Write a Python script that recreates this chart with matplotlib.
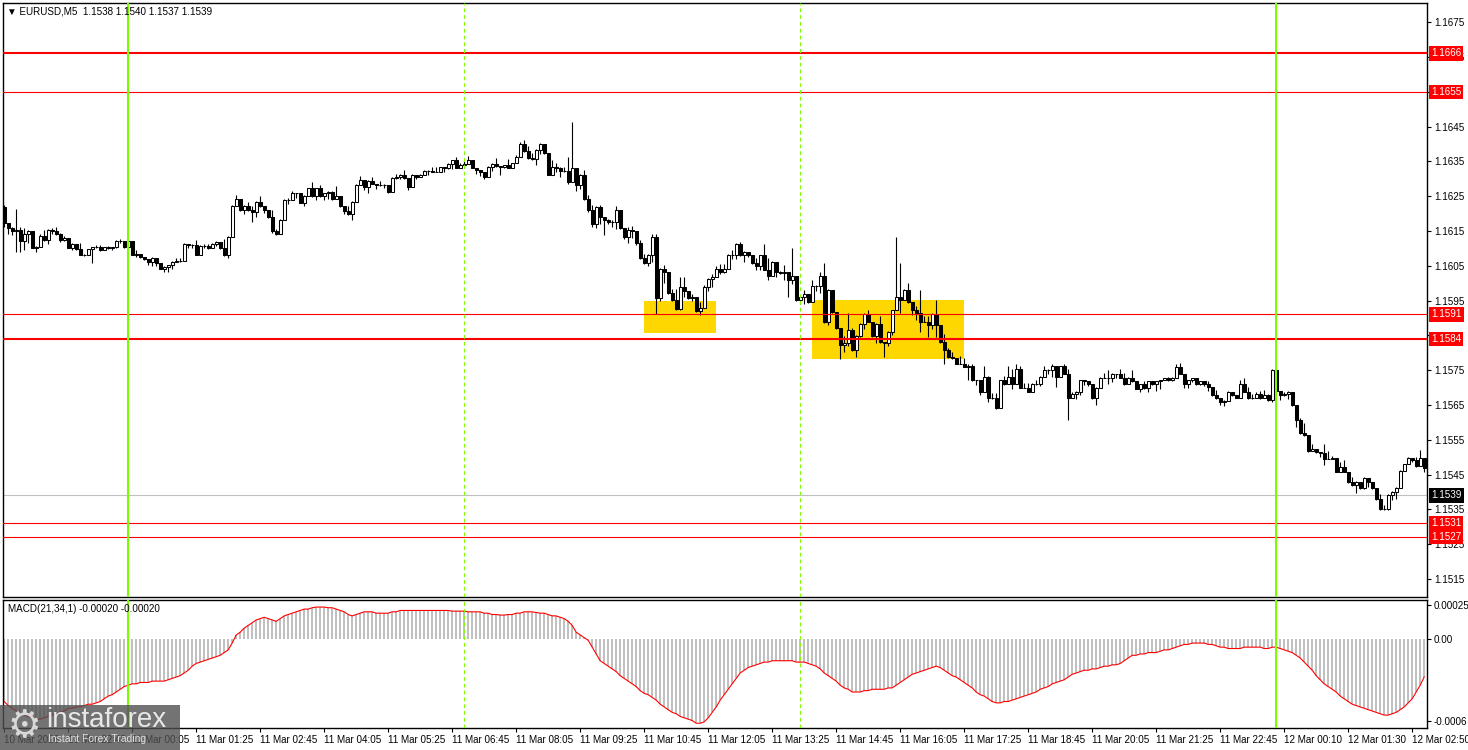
import numpy as np
import matplotlib
matplotlib.use('Agg')
import matplotlib.pyplot as plt
from matplotlib.patches import Rectangle
import matplotlib.transforms as mtransforms

plt.rcParams['font.family'] = ['Liberation Sans', 'DejaVu Sans']

# ---------------- data ----------------
symbol_title = "\u25BC EURUSD,M5  1.1538 1.1540 1.1537 1.1539"
macd_title = "MACD(21,34,1) -0.00020 -0.00020"
base_price = 1.1500          # prices below are pips above this base
first_open_pips = 122.0

close_pips = [
    117.2, 115.7, 115.0, 115.4, 112.2, 114.1, 115.0, 110.0, 110.5, 113.5,
    112.3, 115.2, 115.0, 114.1, 112.4, 113.0, 110.0, 111.2, 109.8, 108.2,
    108.1, 109.7, 110.3, 110.3, 109.5, 110.3, 110.2, 110.3, 112.2, 112.0,
    110.3, 112.2, 108.1, 108.5, 107.4, 106.8, 106.0, 107.1, 105.8, 104.2,
    104.5, 105.2, 106.1, 106.4, 106.3, 111.2, 111.0, 111.0, 108.1, 110.7,
    110.6, 110.0, 111.3, 111.9, 110.0, 108.1, 113.3, 122.1, 124.1, 121.0,
    122.1, 121.0, 120.5, 123.4, 122.1, 121.0, 119.1, 115.0, 114.0, 118.1,
    123.9, 124.0, 126.0, 125.8, 123.1, 125.0, 127.2, 125.0, 127.2, 125.0,
    125.8, 126.3, 124.3, 125.0, 122.1, 120.8, 119.8, 123.4, 128.2, 129.5,
    127.7, 129.3, 128.6, 128.2, 128.2, 128.2, 126.1, 130.1, 130.6, 131.2,
    130.1, 127.7, 131.2, 130.6, 131.2, 132.2, 132.2, 132.0, 132.0, 133.4,
    133.1, 134.1, 135.3, 133.1, 133.9, 134.1, 135.3, 133.1, 132.4, 132.0,
    130.6, 133.4, 134.1, 133.8, 133.4, 133.9, 133.1, 134.4, 136.3, 140.1,
    137.9, 136.0, 135.8, 138.2, 140.1, 137.3, 131.2, 133.4, 133.1, 132.2,
    132.2, 129.1, 133.1, 128.2, 131.2, 124.3, 121.0, 117.1, 121.9, 119.1,
    118.1, 117.5, 117.6, 121.0, 115.7, 113.3, 115.2, 115.0, 111.4, 107.1,
    105.7, 108.1, 113.3, 95.6, 104.0, 103.3, 97.1, 95.2, 92.7, 99.0,
    97.7, 95.8, 96.0, 92.0, 92.9, 99.0, 101.2, 101.8, 104.2, 103.1,
    104.2, 108.0, 108.0, 111.2, 108.0, 109.0, 108.0, 105.8, 104.9, 108.0,
    103.9, 102.0, 106.1, 103.3, 103.0, 103.3, 101.0, 102.0, 95.1, 96.1,
    97.0, 94.6, 99.1, 99.1, 102.0, 88.9, 98.0, 91.8, 87.0, 82.2,
    82.9, 86.5, 80.7, 84.8, 88.2, 91.1, 88.9, 84.8, 88.2, 83.1,
    82.9, 86.0, 92.2, 96.1, 95.1, 98.0, 94.6, 92.2, 91.5, 88.9,
    88.9, 87.9, 91.1, 87.9, 83.1, 80.7, 78.8, 78.4, 76.9, 76.9,
    76.0, 76.1, 72.1, 72.1, 68.8, 73.1, 66.9, 66.9, 64.0, 72.1,
    71.0, 73.1, 71.0, 75.2, 70.0, 70.0, 68.8, 71.0, 71.0, 73.1,
    75.0, 75.0, 76.1, 73.1, 76.1, 74.0, 66.9, 68.1, 68.8, 72.1,
    71.8, 70.9, 66.9, 69.9, 72.8, 72.8, 72.6, 74.0, 73.8, 72.8,
    70.9, 72.8, 71.8, 69.7, 70.9, 69.9, 71.8, 70.9, 71.8, 72.1,
    72.6, 72.1, 72.8, 76.0, 74.0, 70.9, 72.1, 72.6, 70.9, 71.8,
    70.9, 70.2, 67.8, 66.9, 65.9, 66.1, 68.8, 67.8, 67.1, 70.9,
    68.8, 66.9, 66.9, 68.0, 66.9, 67.8, 66.4, 75.0, 69.0, 67.8,
    68.0, 68.8, 64.9, 60.6, 56.8, 56.3, 51.8, 52.3, 51.5, 51.1,
    49.6, 49.6, 49.8, 45.8, 47.2, 45.8, 42.9, 42.0, 42.9, 41.0,
    44.1, 42.9, 41.0, 37.9, 35.1, 35.1, 39.1, 40.0, 41.2, 46.0,
    47.9, 49.8, 49.1, 47.5, 49.8, 46.9,
]

high_pips = [
    122.5, 116.3, 116.0, 121.2, 116.0, 115.7, 115.2, 114.5, 110.6, 114.0,
    115.2, 115.6, 115.8, 116.2, 114.3, 113.5, 113.0, 111.4, 111.2, 111.5,
    108.3, 109.9, 110.5, 111.0, 111.0, 110.5, 110.8, 110.5, 112.4, 112.6,
    112.0, 112.5, 112.0, 109.5, 108.2, 107.5, 106.8, 107.5, 106.5, 105.3,
    104.8, 105.3, 106.3, 107.3, 107.2, 111.4, 111.2, 111.3, 112.4, 111.0,
    111.2, 111.2, 111.6, 112.2, 111.9, 112.8, 113.5, 122.5, 125.3, 124.1,
    122.4, 123.4, 122.1, 123.6, 125.0, 121.8, 120.5, 121.0, 115.5, 118.4,
    124.2, 124.6, 126.4, 126.0, 124.4, 125.4, 127.4, 129.1, 127.4, 128.2,
    126.0, 126.5, 126.5, 127.8, 124.3, 121.5, 122.1, 123.6, 128.4, 130.8,
    128.5, 129.5, 130.4, 128.4, 129.4, 128.4, 127.6, 130.4, 131.5, 131.5,
    132.4, 129.4, 131.4, 131.2, 131.5, 132.4, 132.5, 133.4, 133.3, 133.5,
    133.3, 134.4, 135.5, 136.2, 134.5, 135.0, 136.4, 134.4, 133.0, 132.2,
    131.8, 133.6, 134.5, 136.0, 133.6, 134.0, 135.6, 134.6, 136.8, 140.5,
    141.0, 139.4, 137.5, 138.4, 140.4, 139.5, 136.4, 135.5, 134.6, 133.4,
    133.4, 136.2, 146.4, 133.1, 131.5, 132.4, 125.4, 122.5, 122.2, 122.5,
    119.1, 118.4, 118.0, 122.1, 120.5, 115.4, 116.2, 116.5, 114.5, 112.4,
    108.3, 108.4, 114.0, 114.0, 104.3, 105.2, 102.0, 98.2, 98.3, 101.8,
    101.8, 97.4, 96.9, 95.4, 94.5, 99.4, 101.4, 102.5, 105.0, 105.4,
    105.4, 108.3, 109.5, 111.6, 111.9, 109.2, 108.6, 107.3, 107.2, 108.2,
    111.2, 107.3, 106.3, 105.2, 103.5, 105.2, 103.3, 110.0, 101.2, 96.3,
    98.0, 96.3, 101.0, 99.4, 103.3, 105.8, 98.3, 97.2, 91.5, 86.8,
    84.8, 91.3, 87.0, 85.0, 88.4, 91.3, 92.4, 88.4, 88.4, 90.5,
    83.1, 86.2, 92.4, 113.3, 105.7, 98.2, 100.1, 94.5, 93.4, 98.0,
    90.5, 90.5, 91.3, 95.1, 87.2, 85.3, 81.4, 80.2, 78.6, 79.0,
    78.6, 76.9, 76.9, 72.3, 72.3, 76.1, 73.3, 68.5, 68.5, 72.3,
    73.3, 76.1, 75.4, 76.9, 76.3, 71.2, 71.2, 71.2, 72.3, 73.3,
    76.1, 75.2, 76.9, 75.2, 76.3, 76.9, 75.2, 68.8, 69.0, 72.3,
    72.3, 71.8, 70.2, 70.1, 73.0, 74.2, 75.0, 74.2, 74.0, 75.2,
    74.2, 73.0, 75.0, 71.1, 71.1, 72.0, 72.0, 72.0, 72.0, 72.3,
    72.8, 73.0, 73.0, 76.9, 77.1, 73.0, 72.3, 72.8, 72.3, 72.0,
    71.8, 71.8, 69.2, 69.2, 66.9, 66.3, 69.0, 68.0, 67.8, 72.1,
    72.8, 70.1, 68.2, 68.8, 69.0, 69.2, 68.2, 75.2, 74.2, 68.4,
    68.8, 69.0, 68.8, 64.4, 61.3, 59.7, 56.2, 53.9, 52.0, 51.5,
    53.9, 51.7, 50.2, 49.8, 48.5, 49.1, 45.2, 44.3, 43.1, 42.3,
    44.3, 43.5, 42.2, 40.2, 39.3, 36.2, 39.3, 40.2, 41.4, 46.2,
    48.1, 50.0, 49.8, 50.0, 52.0, 49.3,
]

low_pips = [
    116.0, 114.0, 113.8, 109.0, 109.0, 109.5, 111.4, 110.0, 109.0, 110.6,
    112.0, 111.2, 114.0, 113.8, 111.8, 112.2, 110.0, 109.5, 109.5, 108.0,
    107.8, 109.5, 105.8, 110.0, 109.3, 109.5, 109.8, 109.5, 110.0, 111.5,
    110.2, 109.5, 108.0, 107.5, 107.3, 106.7, 105.3, 104.9, 105.0, 104.0,
    103.3, 103.2, 104.2, 106.0, 106.0, 107.0, 110.2, 110.2, 108.0, 108.0,
    110.0, 109.8, 110.6, 110.8, 109.8, 107.9, 107.1, 113.5, 123.0, 120.8,
    119.8, 120.8, 117.6, 119.1, 121.8, 120.2, 118.8, 114.3, 113.8, 114.5,
    118.1, 122.6, 124.0, 124.5, 123.0, 122.2, 125.8, 124.8, 124.0, 124.8,
    124.0, 124.3, 124.0, 124.8, 122.0, 120.0, 119.5, 118.0, 124.0, 128.2,
    126.8, 126.0, 128.4, 127.0, 128.0, 127.2, 125.9, 127.0, 130.0, 130.0,
    130.0, 126.8, 128.9, 130.0, 130.5, 131.0, 131.2, 131.8, 131.8, 132.0,
    132.0, 132.8, 132.8, 133.0, 133.0, 133.0, 134.5, 133.0, 131.5, 130.8,
    130.0, 131.0, 132.3, 133.4, 131.2, 133.0, 133.0, 133.3, 135.0, 137.0,
    137.7, 135.8, 135.5, 134.0, 137.0, 137.0, 131.0, 132.0, 132.0, 130.4,
    132.0, 128.6, 130.0, 126.5, 127.0, 124.0, 120.5, 116.0, 115.7, 117.0,
    113.7, 117.0, 116.0, 115.5, 115.5, 112.8, 111.4, 113.0, 111.0, 107.0,
    105.5, 104.8, 106.0, 91.0, 95.0, 100.0, 96.8, 95.0, 92.3, 92.2,
    96.0, 95.5, 95.0, 91.6, 90.8, 93.4, 97.8, 99.0, 102.6, 102.5,
    103.0, 105.0, 107.0, 107.0, 107.8, 106.1, 107.5, 105.6, 103.9, 103.7,
    103.7, 101.0, 102.8, 101.8, 102.5, 101.0, 96.1, 99.7, 95.0, 94.0,
    94.0, 94.4, 96.0, 97.8, 97.3, 88.4, 88.0, 91.5, 86.8, 78.1,
    80.2, 82.0, 80.5, 78.8, 84.4, 86.8, 88.7, 84.6, 82.7, 82.9,
    78.8, 82.0, 85.1, 92.5, 91.3, 95.9, 94.4, 90.8, 89.5, 86.0,
    88.7, 84.6, 86.8, 84.6, 82.9, 76.9, 78.6, 78.2, 76.7, 76.7,
    75.8, 72.1, 71.9, 70.8, 67.8, 69.8, 65.9, 66.7, 63.8, 64.8,
    70.8, 71.9, 69.7, 71.9, 69.8, 69.8, 68.6, 69.8, 70.8, 70.5,
    73.8, 73.8, 72.9, 70.2, 73.8, 73.8, 60.8, 67.3, 66.7, 67.8,
    70.7, 70.5, 66.7, 64.9, 70.7, 72.6, 70.9, 71.6, 72.8, 72.6,
    70.7, 71.6, 71.6, 69.5, 68.8, 69.7, 68.8, 70.7, 69.0, 69.7,
    72.2, 71.9, 71.9, 73.8, 73.8, 69.9, 69.9, 71.5, 70.7, 70.8,
    70.5, 69.0, 67.6, 66.7, 64.9, 64.7, 66.7, 67.6, 66.9, 67.8,
    68.6, 66.7, 66.7, 66.9, 66.7, 67.6, 66.2, 65.9, 68.0, 66.4,
    67.5, 66.7, 64.7, 58.7, 56.6, 56.1, 51.6, 52.0, 51.1, 50.1,
    47.7, 49.4, 49.4, 45.6, 45.6, 45.6, 42.7, 41.8, 39.8, 40.8,
    40.8, 41.5, 40.8, 37.7, 34.9, 34.9, 34.9, 37.7, 37.9, 41.8,
    46.5, 48.9, 48.5, 47.3, 47.5, 45.8,
]

# MACD(21,34,1) values in units of 1e-5
macd_e5 = [
    -46, -49, -51, -53, -55, -56, -57, -58, -59, -59,
    -58, -57, -56, -55, -54, -53, -51, -51, -50, -50,
    -49, -48, -48, -47, -46, -44, -42, -41, -39, -37,
    -35, -34, -33, -33, -32, -32, -32, -31, -31, -31,
    -31, -30, -29, -28, -27, -25, -23, -20, -18, -17,
    -16, -15, -14, -13, -12, -10, -8, -3, 3, 5,
    8, 10, 12, 14, 15, 16, 15, 14, 13, 15,
    17, 18, 19, 20, 21, 22, 22, 23, 23.5, 23.5,
    23.5, 23, 23, 22, 21, 20, 18, 17, 18, 19,
    20, 20, 20, 19, 19, 19, 19, 20, 20, 21,
    21, 21, 21, 21, 21, 21, 21, 21, 21, 21,
    21, 21, 20.5, 20.5, 20.5, 20.5, 20, 20, 20, 20,
    19, 19, 18, 18, 17.6, 17.6, 18, 18, 19, 19,
    20, 20, 20, 19.5, 19, 19, 18, 17, 17, 16,
    15, 13, 10, 5, 3, 1, -1, -6, -11, -16,
    -18, -20, -22, -24, -27, -29, -31, -33, -35, -38,
    -40, -41, -43, -45, -48, -50, -52, -54, -55, -57,
    -58, -59, -60, -62, -62, -61, -58, -54, -50, -45,
    -41, -37, -33, -29, -25, -23, -21, -20, -19, -18,
    -17, -17, -16, -16, -16, -16, -16, -16, -17, -17,
    -17, -18, -19, -20, -22, -25, -27, -29, -31, -34,
    -36, -37, -39, -39, -39, -38, -38, -37, -37, -37,
    -37, -36, -36, -34, -32, -30, -28, -26, -25, -24,
    -23, -22, -21, -20, -21, -23, -25, -27, -28, -30,
    -32, -34, -36, -39, -41, -42, -44, -46, -47, -47,
    -46, -46, -45, -44, -43, -42, -41, -40, -39, -37,
    -36, -35, -33, -32, -31, -30, -28, -26, -25, -24,
    -23, -23, -22, -22, -21, -20, -20, -19, -19, -18,
    -16, -14, -12, -12, -11, -11, -10, -10, -10, -9,
    -8, -8, -7, -6, -5, -4, -4, -3, -3, -3,
    -3, -4, -4, -5, -6, -6, -7, -7, -7, -7,
    -6, -6, -6, -6, -6, -7, -7, -6, -6, -7,
    -8, -9, -10, -12, -14, -17, -20, -23, -27, -30,
    -33, -35, -37, -39, -42, -44, -46, -48, -49, -50,
    -51, -52, -53, -54, -55, -56, -56, -55, -54, -52,
    -50, -47, -44, -39, -34, -28,
]

levels_thick = [1.1666, 1.1584]
levels_thin = [1.1655, 1.1591, 1.1531, 1.1527]
red_labels = [1.1666, 1.1655, 1.1591, 1.1584, 1.1531, 1.1527]
bid_price = 1.1539
# zones: (first bar, last bar, low price, high price)
zones = [(160, 178, 1.15857, 1.15949), (202, 240, 1.15782, 1.15951)]
day_lines = [31, 318]
sep_lines = [115, 199]
price_ticks = [1.1515, 1.1525, 1.1535, 1.1545, 1.1555, 1.1565, 1.1575, 1.1585,
               1.1595, 1.1605, 1.1615, 1.1625, 1.1635, 1.1645, 1.1655, 1.1665, 1.1675]
# tick labels fully covered by a level label in the reference are left blank
hidden_price_ticks = [1.1585, 1.1655]
time_tick_bars = [0, 16, 32, 48, 64, 80, 96, 112, 128, 144, 160, 176, 192,
                  208, 224, 240, 256, 272, 288, 304, 320, 336, 352]
time_tick_text = ["10 Mar 2026", "10 Mar 22:45", "11 Mar 00:05", "11 Mar 01:25",
                  "11 Mar 02:45", "11 Mar 04:05", "11 Mar 05:25", "11 Mar 06:45",
                  "11 Mar 08:05", "11 Mar 09:25", "11 Mar 10:45", "11 Mar 12:05",
                  "11 Mar 13:25", "11 Mar 14:45", "11 Mar 16:05", "11 Mar 17:25",
                  "11 Mar 18:45", "11 Mar 20:05", "11 Mar 21:25", "11 Mar 22:45",
                  "12 Mar 00:10", "12 Mar 01:30", "12 Mar 02:50"]
macd_ticks = [0.00025, 0.0, -0.0006]
macd_tick_text = ["0.00025", "0.00", "-0.0006"]

assert len(close_pips) == len(high_pips) == len(low_pips) == len(macd_e5), \
    (len(close_pips), len(high_pips), len(low_pips), len(macd_e5))

# ---------------- derived ----------------
c = base_price + np.array(close_pips) / 1e4
h = base_price + np.array(high_pips) / 1e4
l = base_price + np.array(low_pips) / 1e4
o = np.r_[base_price + first_open_pips / 1e4, c[:-1]]
macd = np.array(macd_e5) * 1e-5
n = len(c)
x = np.arange(n)

W, H = 1468, 750
fig = plt.figure(figsize=(W / 100, H / 100), dpi=100)
fig.patch.set_facecolor('white')

def px_axes(x0, y0, x1, y1):
    return fig.add_axes([x0 / W, 1 - y1 / H, (x1 - x0) / W, (y1 - y0) / H])

ax = px_axes(3, 3, 1427, 597)
ax2 = px_axes(3, 600, 1427, 728)

xlim = (-0.3, 355.7)
for a in (ax, ax2):
    a.set_xlim(*xlim)
    for s in a.spines.values():
        s.set_color('black')
        s.set_linewidth(1.0)
    a.set_facecolor('white')

ax.set_ylim(1.15098, 1.16805)
ax2.set_ylim(-0.000655, 0.000287)

TXT = 7.1
GREEN = '#7CFC00'

# zones
for (b0, b1, lo, hi) in zones:
    ax.add_patch(Rectangle((b0, lo), b1 - b0, hi - lo, facecolor='#FFD700',
                           edgecolor='none', zorder=1))

# bid line
ax.axhline(bid_price, color='#C0C0C0', lw=0.8, zorder=1.5)

# candles
up = c >= o
body_lo = np.minimum(o, c)
body_h = np.abs(c - o)
ax.vlines(x, np.minimum(l, body_lo), np.maximum(h, body_lo + body_h),
          color='black', lw=0.8, zorder=2)
ax.bar(x, body_h, bottom=body_lo, width=0.72,
       color=np.where(up, 'white', 'black'), edgecolor='black', lw=0.75, zorder=3)

# horizontal levels
for lv in levels_thick:
    ax.axhline(lv, color='red', lw=1.5, zorder=4)
for lv in levels_thin:
    ax.axhline(lv, color='red', lw=0.8, zorder=4)

# vertical lines
for a in (ax, ax2):
    for b in day_lines:
        a.axvline(b, color=GREEN, lw=1.5, zorder=5)
    for b in sep_lines:
        a.axvline(b, color=GREEN, lw=0.7, ls=(0, (4, 3)), zorder=5)

# price axis
ax.yaxis.tick_right()
ax.set_yticks(price_ticks)
ax.set_yticklabels(["" if t in hidden_price_ticks else f"{t:.4f}" for t in price_ticks])
ax.tick_params(axis='y', direction='out', length=3, width=0.8, labelsize=TXT, pad=2)
ax.set_xticks([])

trans = mtransforms.blended_transform_factory(ax.transAxes, ax.transData)
for lv in red_labels:
    ax.text(1 + 4 / 1424, lv, f"{lv:.4f}", transform=trans, ha='left', va='center',
            fontsize=TXT, color='white', zorder=20, clip_on=False,
            bbox=dict(boxstyle='square,pad=0.22', fc='#FF0000', ec='none'))
ax.text(1 + 4 / 1424, bid_price, f"{bid_price:.4f}", transform=trans, ha='left',
        va='center', fontsize=TXT, color='white', zorder=20, clip_on=False,
        bbox=dict(boxstyle='square,pad=0.22', fc='black', ec='none'))

ax.text(4 / 1424, 1 - 8 / 594, symbol_title, transform=ax.transAxes, ha='left',
        va='center', fontsize=TXT, color='black', zorder=20)

# MACD panel
ax2.bar(x, macd, width=0.5, color='#C0C0C0', zorder=2)
ax2.plot(x, macd, color='red', lw=0.8, zorder=3)
ax2.yaxis.tick_right()
ax2.set_yticks(macd_ticks)
ax2.set_yticklabels(macd_tick_text)
ax2.tick_params(axis='y', direction='out', length=3, width=0.8, labelsize=TXT, pad=2)
ax2.set_xticks(time_tick_bars)
ax2.set_xticklabels(time_tick_text)
ax2.tick_params(axis='x', direction='out', length=3, width=0.8, labelsize=TXT, pad=2)
for lbl in ax2.get_xticklabels():
    lbl.set_ha('left')
ax2.text(5 / 1424, 1 - 9 / 128, macd_title, transform=ax2.transAxes, ha='left',
         va='center', fontsize=TXT, color='black', zorder=20)

# watermark logo
fig.add_artist(Rectangle((0, 0), 180 / W, 45 / H, transform=fig.transFigure,
                         facecolor='#505050', edgecolor='none', alpha=0.8, zorder=30))
fig.text(24 / W, 1 - 727 / H, "\u2699", fontsize=27, color='#d8d8d8',
         ha='center', va='center', family=['DejaVu Sans'], zorder=31)
fig.text(46 / W, 1 - 720 / H, "instaforex", fontsize=20, color='#e8e8e8',
         ha='left', va='center', zorder=31)
fig.text(48 / W, 1 - 739 / H, "Instant Forex Trading", fontsize=7.5, color='#e0e0e0',
         ha='left', va='center', zorder=31)

fig.savefig('out.png', dpi=100, facecolor='white')
